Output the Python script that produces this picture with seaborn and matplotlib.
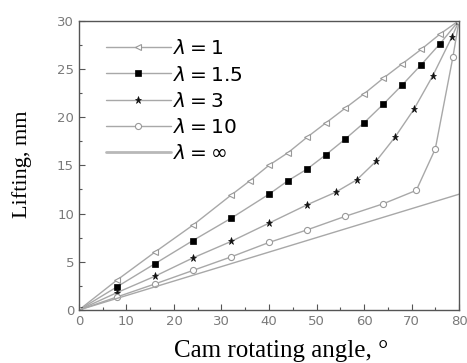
import matplotlib
matplotlib.use("Agg")
import matplotlib.pyplot as plt
from matplotlib.ticker import MultipleLocator
import seaborn as sns
import pandas as pd

# Lift curves of the cam for several shape factors lambda
angle_l1 = [0, 8, 16, 24, 32, 36, 40, 44, 48, 52, 56, 60, 64, 68, 72, 76, 80]
lift_l1 = [0, 3.1, 6.0, 8.8, 11.9, 13.4, 15.0, 16.3, 17.9, 19.4, 20.9, 22.4, 24.0, 25.5, 27.0, 28.6, 30.0]

angle_l15 = [0, 8, 16, 24, 32, 40, 44, 48, 52, 56, 60, 64, 68, 72, 76, 80]
lift_l15 = [0, 2.4, 4.8, 7.2, 9.5, 12.0, 13.4, 14.6, 16.1, 17.7, 19.4, 21.3, 23.3, 25.4, 27.6, 30.0]

angle_l3 = [0, 8, 16, 24, 32, 40, 48, 54, 58.5, 62.5, 66.5, 70.5, 74.5, 78.5, 80]
lift_l3 = [0, 1.8, 3.5, 5.4, 7.1, 9.0, 10.9, 12.2, 13.5, 15.4, 17.9, 20.8, 24.3, 28.3, 30.0]

angle_l10 = [0, 8, 16, 24, 32, 40, 48, 56, 64, 71, 75, 78.7, 80]
lift_l10 = [0, 1.35, 2.7, 4.1, 5.5, 7.0, 8.3, 9.7, 11.0, 12.4, 16.7, 26.2, 30.0]

angle_inf = [0, 80]
lift_inf = [0, 12.0]

labels = [r"$\lambda=1$", r"$\lambda=1.5$", r"$\lambda=3$", r"$\lambda=10$", r"$\lambda=\infty$"]

sns.set_style("ticks")
plt.rcParams["mathtext.fontset"] = "dejavusans"

fig = plt.figure(figsize=(4.67, 3.63), dpi=100)
ax = fig.add_axes([0.169, 0.146, 0.814, 0.7975])

line_col = "#a8a8a8"
series = [
    (angle_l1, lift_l1, dict(marker="<", markersize=4.2, markerfacecolor="white",
                             markeredgecolor="#999999", markeredgewidth=0.8)),
    (angle_l15, lift_l15, dict(marker="s", markersize=4.2, markerfacecolor="black",
                               markeredgecolor="black", markeredgewidth=0.5)),
    (angle_l3, lift_l3, dict(marker="*", markersize=5.2, markerfacecolor="#111111",
                             markeredgecolor="#111111", markeredgewidth=0.5)),
    (angle_l10, lift_l10, dict(marker="o", markersize=4.4, markerfacecolor="white",
                               markeredgecolor="#999999", markeredgewidth=0.8)),
    (angle_inf, lift_inf, dict()),
]

for (xs, ys, mk), lab in zip(series, labels):
    df = pd.DataFrame({"angle": xs, "lift": ys})
    sns.lineplot(data=df, x="angle", y="lift", ax=ax, color=line_col,
                 linewidth=1.0, label=lab, sort=False, **mk)

leg = ax.legend(loc="upper left", bbox_to_anchor=(0.040, 0.977), frameon=False,
                fontsize=14.5, handlelength=3.2, handletextpad=0.1,
                labelspacing=0.36, borderaxespad=0.2)
# the plain line is drawn wider in the legend
leg.get_lines()[-1].set_linewidth(2.0)
leg.get_lines()[-1].set_color("#b8b8b8")
for t in leg.get_texts():
    t.set_color("black")

ax.set_xlim(0, 80)
ax.set_ylim(0, 30)
ax.xaxis.set_major_locator(MultipleLocator(10))
ax.xaxis.set_minor_locator(MultipleLocator(5))
ax.yaxis.set_major_locator(MultipleLocator(5))
ax.yaxis.set_minor_locator(MultipleLocator(2.5))
ax.tick_params(which="both", direction="in", colors="#555555", labelcolor="#7a7a7a",
               labelsize=9.5, top=False, right=False)
ax.tick_params(which="major", length=4, width=0.8)
ax.tick_params(which="minor", length=2, width=0.8)
for s in ax.spines.values():
    s.set_visible(True)
    s.set_color("#555555")
    s.set_linewidth(1.0)

ax.set_xlabel("Cam rotating angle, \u00b0", fontfamily="Liberation Serif",
              fontsize=18, color="black")
ax.xaxis.label.set_va("baseline")
ax.xaxis.set_label_coords(0.532, -0.162)

ax.set_ylabel("Lifting, mm", fontfamily="Liberation Serif", fontsize=16,
              color="black")
ax.yaxis.label.set_va("bottom")
ax.yaxis.set_label_coords(-0.124, 0.503)

fig.savefig("out.png", dpi=100)
